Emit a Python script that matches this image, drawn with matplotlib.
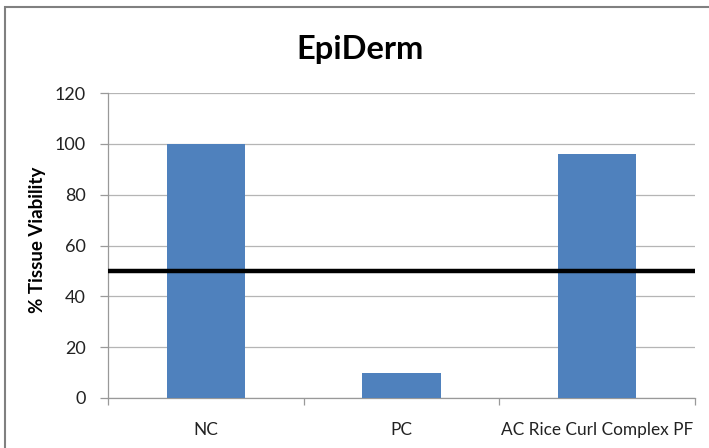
import matplotlib
matplotlib.use("Agg")
import matplotlib.pyplot as plt
from matplotlib.patches import Rectangle
import numpy as np

categories = ["NC", "PC", "AC Rice Curl Complex PF"]
values = [100, 10, 96]
threshold = 50
yticks = [0, 20, 40, 60, 80, 100, 120]

plt.rcParams['font.family'] = ['Lato', 'DejaVu Sans']

fig = plt.figure(figsize=(7.09, 4.48), dpi=100)
ax = fig.add_axes([108/709, 1-398/448, (695-108)/709, (398-93)/448])

x = np.arange(len(categories))
ax.bar(x, values, width=0.4, color="#4F81BD", zorder=3)
ax.axhline(threshold, color="black", lw=3.2, zorder=4)

ax.set_xlim(-0.5, len(categories)-0.5)
ax.set_ylim(0, 120)
ax.set_yticks(yticks)
ax.set_yticklabels([str(t) for t in yticks], fontsize=13, color="#222222")
ax.yaxis.grid(True, color="#b5b5b5", lw=0.9, zorder=0)
ax.set_axisbelow(True)

ax.set_xticks(x)
ax.set_xticklabels(categories, fontsize=12.4, color="#222222")
ax.tick_params(axis='x', which='major', length=0, pad=17)
ax.set_xticks(np.arange(-0.5, len(categories), 1), minor=True)
ax.tick_params(axis='x', which='minor', length=5, color="#999999", width=0.9)
ax.tick_params(axis='y', length=6, color="#999999", width=0.9, pad=10)

for s in ["top", "right"]:
    ax.spines[s].set_visible(False)
ax.spines["left"].set_color("#999999")
ax.spines["bottom"].set_color("#999999")
ax.spines["left"].set_linewidth(0.9)
ax.spines["bottom"].set_linewidth(0.9)

ax.set_ylabel("% Tissue Viability", fontsize=13.5, fontweight="bold", labelpad=3)
ax.yaxis.set_label_coords(-0.105, 0.52)
fig.text(360/709, 1-49/448, "EpiDerm", ha="center", va="center",
         fontsize=23.5, fontweight="bold")

fig.patches.append(Rectangle((5/709, -0.1), 1.2, 1-7/448+0.1,
                             transform=fig.transFigure, fill=False,
                             edgecolor="#808080", lw=1.5))

fig.savefig("out.png", dpi=100)
